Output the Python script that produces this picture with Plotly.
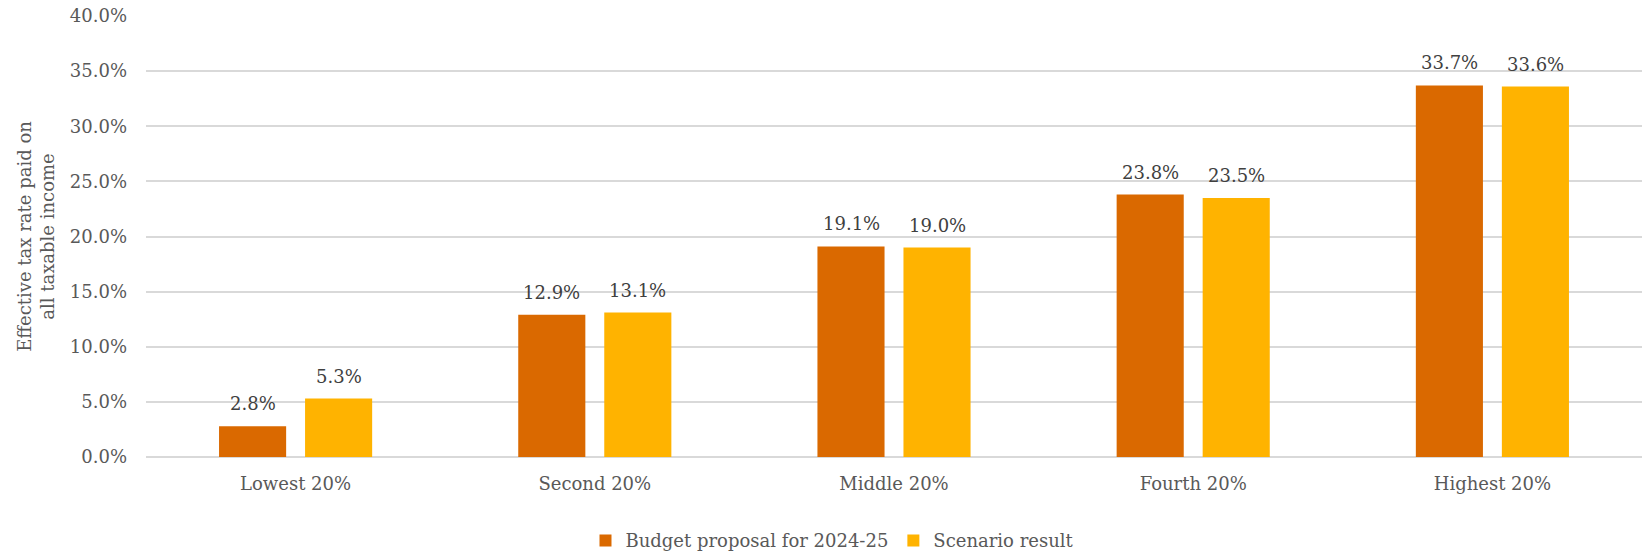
import plotly.graph_objects as go

categories = ["Lowest 20%", "Second 20%", "Middle 20%", "Fourth 20%", "Highest 20%"]
budget = [0.028, 0.129, 0.191, 0.238, 0.337]
scenario = [0.053, 0.131, 0.190, 0.235, 0.336]
series_names = ["Budget proposal for 2024-25", "Scenario result"]
colors = ["#DA6900", "#FFB300"]

FONT = "DejaVu Serif"
GRAY = "#595959"

fig = go.Figure()
for name, vals, col in zip(series_names, [budget, scenario], colors):
    fig.add_trace(go.Bar(
        x=categories, y=vals, name=name, marker_color=col,
        marker_line_width=0,
    ))

# data labels via annotations
offsets = [-43, 43]
for vals, dx in zip([budget, scenario], offsets):
    for c, v in zip(categories, vals):
        fig.add_annotation(
            x=c, y=v, text=f"{v*100:.1f}%", showarrow=False,
            xshift=dx, yshift=10, yanchor="bottom",
            font=dict(family=FONT, size=18, color="#404040"),
        )

fig.update_layout(
    width=1642, height=554,
    margin=dict(l=146, r=0, t=16, b=97),
    plot_bgcolor="white", paper_bgcolor="white",
    barmode="group", bargap=0.425, bargroupgap=0.22,
    font=dict(family=FONT, size=18, color=GRAY),
    legend=dict(
        orientation="h", xref="container", x=0.507, xanchor="center",
        yref="container", y=0.024, yanchor="middle",
        font=dict(family=FONT, size=18, color=GRAY),
        itemwidth=30, tracegroupgap=0,
    ),
    showlegend=True,
)
fig.update_yaxes(
    range=[0, 0.4], dtick=0.05, tickformat=".1%",
    showgrid=True, gridcolor="#D9D9D9", gridwidth=1.5,
    zeroline=True, zerolinecolor="#D9D9D9", zerolinewidth=1.5,
    ticks="", ticklabelstandoff=18,
    tickfont=dict(family=FONT, size=18, color=GRAY),
    title=dict(text="Effective tax rate paid on<br>all taxable income",
               font=dict(family=FONT, size=18, color=GRAY), standoff=10),
)
fig.update_xaxes(
    showline=False, ticks="", ticklabelstandoff=14,
    tickfont=dict(family=FONT, size=18, color=GRAY),
)

fig.write_html("out.html")
